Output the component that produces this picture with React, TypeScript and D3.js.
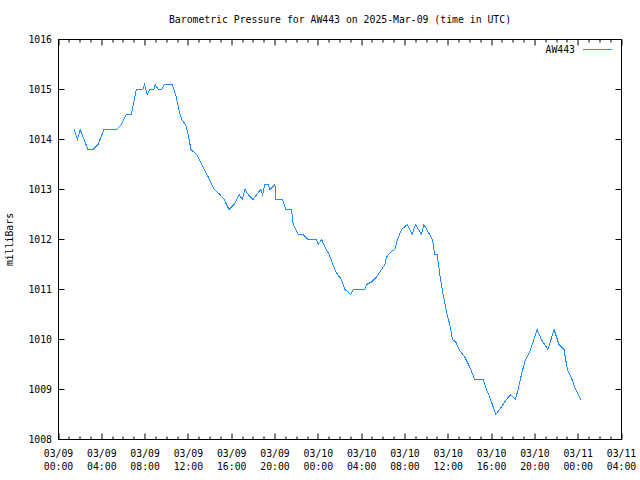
import React from "react";
import * as d3 from "d3";

const TITLE = "Barometric Pressure for AW443 on 2025-Mar-09 (time in UTC)";
const SERIES_NAME = "AW443";
const Y_LABEL = "milliBars";

// hours since 2025-03-09 00:00 UTC
const hours = [
  1.46, 1.74, 2.01, 2.72, 3.18, 3.65, 4.2, 5.34, 5.8, 6.26, 6.72, 7.18, 7.8, 7.96, 8.2, 8.42,
  8.82, 8.94, 9.21, 9.53, 9.77, 10.5, 10.82, 11.12, 11.37, 11.74, 11.98, 12.23, 12.76, 13.22,
  13.83, 14.38, 14.91, 15.3, 15.74, 16.23, 16.69, 16.97, 17.22, 17.52, 17.98, 18.3, 18.67,
  18.85, 19.06, 19.37, 19.52, 19.99, 20.08, 20.7, 21.0, 21.53, 21.67, 22.14, 22.6, 23.06,
  23.84, 23.98, 24.3, 24.6, 25.0, 25.52, 25.77, 26.14, 26.45, 26.75, 27.0, 27.21, 28.29,
  28.45, 28.91, 29.37, 29.83, 30.14, 30.3, 30.69, 31.06, 31.31, 31.68, 32.23, 32.66, 32.97,
  33.53, 33.74, 34.14, 34.54, 34.75, 34.97, 35.22, 35.52, 35.84, 36.14, 36.39, 36.69, 37.0,
  37.52, 37.98, 38.44, 39.21, 39.53, 39.83, 40.39, 40.91, 41.37, 41.77, 42.2, 42.45, 42.76,
  43.06, 43.52, 43.83, 44.2, 44.6, 45.21, 45.77, 46.23, 46.69, 47.0, 47.43, 47.77, 48.23,
];

const pressure = [
  1014.2, 1014.0, 1014.2, 1013.8, 1013.8, 1013.9, 1014.2, 1014.2, 1014.3, 1014.5, 1014.5,
  1015.0, 1015.0, 1015.1, 1014.9, 1015.0, 1015.0, 1015.1, 1015.0, 1015.0, 1015.1, 1015.1,
  1014.9, 1014.6, 1014.4, 1014.3, 1014.1, 1013.8, 1013.7, 1013.5, 1013.25, 1013.0, 1012.9,
  1012.8, 1012.6, 1012.7, 1012.9, 1012.8, 1013.0, 1012.9, 1012.8, 1012.9, 1013.0, 1012.9,
  1013.1, 1013.1, 1013.0, 1013.1, 1012.8, 1012.8, 1012.6, 1012.6, 1012.3, 1012.1, 1012.1,
  1012.0, 1012.0, 1011.9, 1012.0, 1011.85, 1011.7, 1011.4, 1011.3, 1011.2, 1011.0, 1010.95,
  1010.9, 1011.0, 1011.0, 1011.1, 1011.15, 1011.25, 1011.4, 1011.5, 1011.65, 1011.75, 1011.8,
  1012.0, 1012.2, 1012.3, 1012.1, 1012.3, 1012.1, 1012.3, 1012.15, 1012.0, 1011.7, 1011.7,
  1011.3, 1010.9, 1010.55, 1010.3, 1010.0, 1009.95, 1009.8, 1009.65, 1009.45, 1009.2, 1009.2,
  1009.0, 1008.85, 1008.5, 1008.65, 1008.8, 1008.9, 1008.8, 1009.0, 1009.3, 1009.55, 1009.75,
  1009.95, 1010.2, 1010.0, 1009.8, 1010.2, 1009.9, 1009.8, 1009.4, 1009.2, 1009.0, 1008.8,
];

const yTicks = [1008, 1009, 1010, 1011, 1012, 1013, 1014, 1015, 1016];
const START = Date.UTC(2025, 2, 9, 0, 0);
const END = Date.UTC(2025, 2, 11, 4, 0);

const W = 640;
const H = 480;
const L = 58.5;
const R = 621.5;
const T = 39.5;
const B = 439.5;
const FONT = "'DejaVu Sans Mono', monospace";
const FS = 9.8;
const COLOR = "#1e8cff";

export default function App() {
  const x = d3.scaleUtc().domain([new Date(START), new Date(END)]).range([L, R]);
  const y = d3.scaleLinear().domain([1008, 1016]).range([B, T]);
  const data = hours.map((h, i) => ({ t: new Date(START + h * 3600e3), v: pressure[i] }));
  const line = d3
    .line<{ t: Date; v: number }>()
    .x((d) => x(d.t))
    .y((d) => y(d.v));

  const hourTicks = d3.utcHour.every(1)!.range(new Date(START), new Date(END + 1));
  const majorTicks = d3.utcHour.every(4)!.range(new Date(START), new Date(END + 1));
  const fmtDate = d3.utcFormat("%m/%d");
  const fmtTime = d3.utcFormat("%H:%M");

  return (
    <svg
      width={W}
      height={H}
      style={{ position: "absolute", left: 0, top: 0, background: "#fff" }}
      fontFamily={FONT}
      fontSize={FS}
    >
      <rect x={0} y={0} width={W} height={H} fill="#fff" />
      <text x={340} y={23} textAnchor="middle" fill="#000">
        {TITLE}
      </text>
      {/* y ticks */}
      {yTicks.map((v) => (
        <g key={v}>
          <line x1={L} x2={L + 6} y1={Math.round(y(v)) - 0.5} y2={Math.round(y(v)) - 0.5} stroke="#000" />
          <line x1={R} x2={R - 6} y1={Math.round(y(v)) - 0.5} y2={Math.round(y(v)) - 0.5} stroke="#000" />
          <text x={52} y={y(v) + 3.5} textAnchor="end" fill="#000">
            {v}
          </text>
        </g>
      ))}
      {/* x ticks */}
      {hourTicks.map((t, i) => {
        const major = +t % (4 * 3600e3) === 0;
        const len = major ? 6 : 3;
        const px = Math.round(x(t));
        return (
          <g key={i}>
            <line x1={px} x2={px} y1={B} y2={B - len} stroke="#000" />
            <line x1={px} x2={px} y1={T} y2={T + len} stroke="#000" />
          </g>
        );
      })}
      {majorTicks.map((t, i) => (
        <g key={"l" + i}>
          <text x={x(t)} y={457} textAnchor="middle" fill="#000">
            {fmtDate(t)}
          </text>
          <text x={x(t)} y={470} textAnchor="middle" fill="#000">
            {fmtTime(t)}
          </text>
        </g>
      ))}
      <rect x={L} y={T} width={R - L} height={B - T} fill="none" stroke="#000" />
      <text
        transform={`translate(13,${(T + B) / 2}) rotate(-90)`}
        textAnchor="middle"
        fill="#000"
      >
        {Y_LABEL}
      </text>
      <path
        d={line(data) ?? ""}
        fill="none"
        stroke={COLOR}
        strokeWidth={1}
        shapeRendering="crispEdges"
      />
      {/* legend */}
      <text x={575} y={53} textAnchor="end" fill="#000">
        {SERIES_NAME}
      </text>
      <line x1={583} x2={612} y1={49.5} y2={49.5} stroke={COLOR} />
    </svg>
  );
}
